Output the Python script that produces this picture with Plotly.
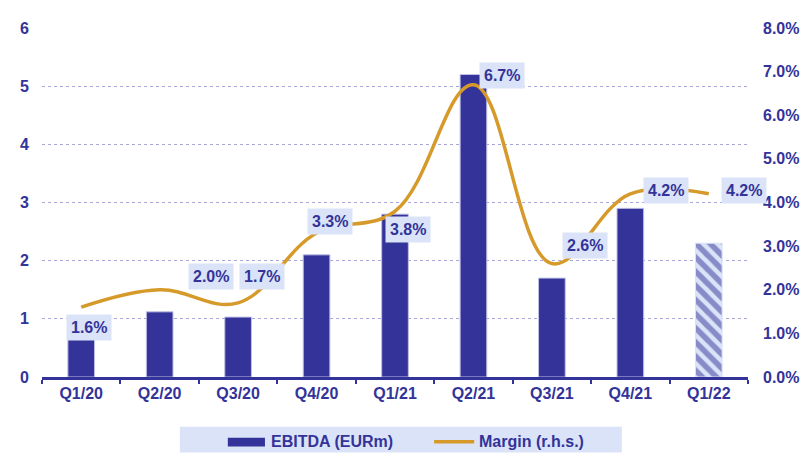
import plotly.graph_objects as go

quarters = ["Q1/20", "Q2/20", "Q3/20", "Q4/20", "Q1/21", "Q2/21", "Q3/21", "Q4/21", "Q1/22"]
ebitda = [0.65, 1.12, 1.03, 2.1, 2.8, 5.2, 1.7, 2.9, 2.3]
margin = [1.6, 2.0, 1.7, 3.3, 3.8, 6.7, 2.6, 4.2, 4.2]
margin_labels = ["1.6%", "2.0%", "1.7%", "3.3%", "3.8%", "6.7%", "2.6%", "4.2%", "4.2%"]
label_x = [0.10, 1.66, 2.30, 3.17, 4.17, 5.36, 6.42, 7.45, 8.45]
label_y = [1.14, 2.30, 2.30, 3.56, 3.37, 6.90, 3.01, 4.27, 4.27]
left_ticks = [0, 1, 2, 3, 4, 5, 6]
right_ticks = [0, 1, 2, 3, 4, 5, 6, 7, 8]
right_ticktext = ["0.0%", "1.0%", "2.0%", "3.0%", "4.0%", "5.0%", "6.0%", "7.0%", "8.0%"]
legend_names = ["EBITDA (EURm)", "Margin (r.h.s.)"]

NAVY = "#333399"
LIGHT = "#dae3f7"
GOLD = "#d69a2a"
FONT = "Arial, Liberation Sans, sans-serif"
FS = 16

fig = go.Figure()

fig.add_trace(go.Bar(
    x=quarters[:-1], y=ebitda[:-1], name=legend_names[0], showlegend=False,
    marker=dict(color=NAVY, line=dict(color="#c0c0e6", width=1)),
    width=0.34, offsetgroup="a",
))
fig.add_trace(go.Bar(
    x=quarters[-1:], y=ebitda[-1:], name="EBITDA forecast", showlegend=False,
    marker=dict(color=LIGHT, line=dict(color=LIGHT, width=1),
                pattern=dict(shape="\\", fgcolor=NAVY, bgcolor=LIGHT, size=10, solidity=0.55)),
    width=0.34, offsetgroup="a",
))
fig.add_trace(go.Scatter(
    x=quarters, y=margin, name=legend_names[1], yaxis="y2", showlegend=False,
    mode="lines", line=dict(color=GOLD, width=3.5, shape="spline", smoothing=1.1),
))

for lx, ly, txt in zip(label_x, label_y, margin_labels):
    fig.add_annotation(
        x=lx, y=ly, xref="x", yref="y2", text=txt, showarrow=False,
        font=dict(family=FONT, size=FS, color=NAVY, weight="bold"),
        bgcolor=LIGHT, borderpad=4,
    )

# legend (drawn in paper coordinates below the plot)
fig.add_shape(type="rect", xref="paper", yref="paper",
              x0=0.1953, x1=0.8213, y0=-0.2165, y1=-0.1425,
              fillcolor=LIGHT, line=dict(width=0), layer="below")
fig.add_shape(type="rect", xref="paper", yref="paper",
              x0=0.2632, x1=0.3158, y0=-0.1994, y1=-0.1738,
              fillcolor=NAVY, line=dict(width=0))
fig.add_shape(type="line", xref="paper", yref="paper",
              x0=0.5554, x1=0.6122, y0=-0.1852, y1=-0.1852,
              line=dict(color=GOLD, width=3.5))
for lx, name in zip([0.3227, 0.6177], legend_names):
    fig.add_annotation(x=lx, y=-0.1852, xref="paper", yref="paper", text=name,
                       showarrow=False, xanchor="left", yanchor="middle", borderpad=0,
                       font=dict(family=FONT, size=FS, color=NAVY, weight="bold"))

fig.update_layout(
    width=803, height=445,
    margin=dict(l=27, r=54, t=18, b=76),
    plot_bgcolor="white", paper_bgcolor="white",
    font=dict(family=FONT, size=FS, color=NAVY),
    barmode="overlay",
    showlegend=False,
    xaxis=dict(
        type="category", showgrid=False, showline=True, linecolor=NAVY, linewidth=3,
        ticks="outside", tickson="boundaries", ticklen=4, tickwidth=2, tickcolor=NAVY,
        tickfont=dict(family=FONT, size=FS, color=NAVY, weight="bold"),
        range=[-0.5, 8.5],
    ),
    yaxis=dict(
        range=[0, 6], tickvals=left_ticks, showgrid=True,
        gridcolor="#a6a6d9", griddash="dot", gridwidth=1, zeroline=False,
        tickfont=dict(family=FONT, size=FS, color=NAVY, weight="bold"),
        ticklabelstandoff=12,
    ),
    yaxis2=dict(
        range=[0, 8], overlaying="y", side="right", tickvals=right_ticks,
        ticktext=right_ticktext, showgrid=False, zeroline=False,
        tickfont=dict(family=FONT, size=FS, color=NAVY, weight="bold"),
        ticklabelstandoff=14,
    ),
)

fig.write_html("out.html")
